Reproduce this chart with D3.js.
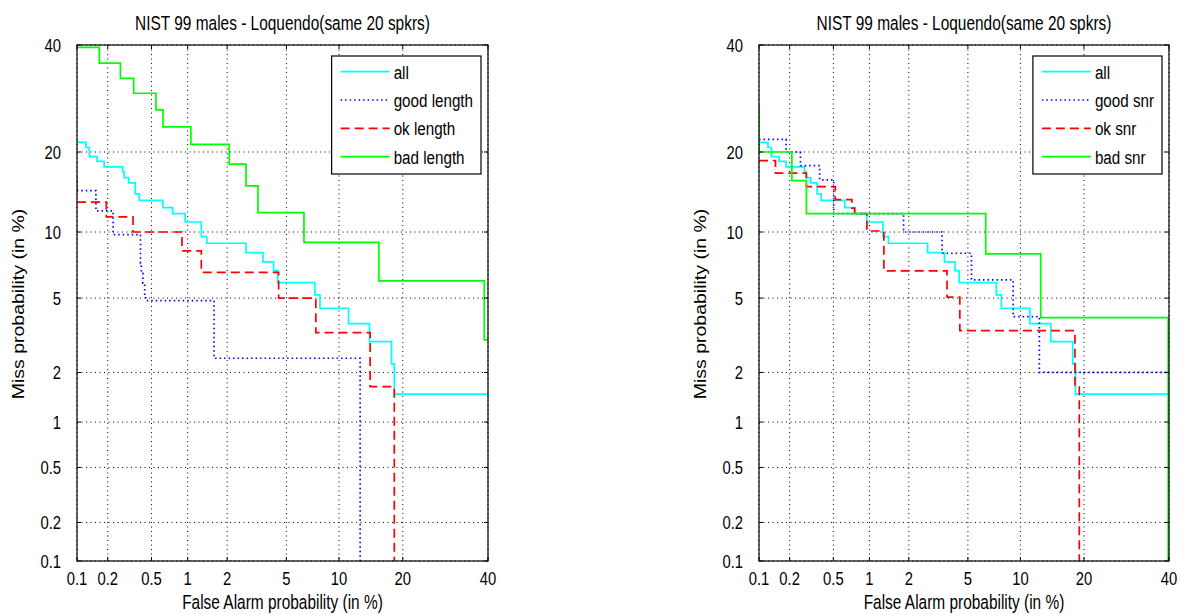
<!DOCTYPE html>
<html>
<head>
<meta charset="utf-8">
<script src="https://cdnjs.cloudflare.com/ajax/libs/d3/7.8.5/d3.min.js"></script>
<style>
body { margin: 0; background: #fff; }
svg text { font-family: "Liberation Sans", Arial, sans-serif; fill: #000; }
</style>
</head>
<body>
<script>
// DET curves: [false alarm %, miss %], each point starts a horizontal step
var allCurve = [[0.1,21.5],[0.123,20.7],[0.133,19.3],[0.158,18.6],[0.185,17.8],[0.276,17.1],[0.285,16.3],[0.314,15.6],[0.359,14.2],[0.39,13.4],[0.627,12.55],[0.755,11.9],[0.955,11.0],[1.28,9.56],[1.41,8.96],[2.72,8.15],[3.54,7.42],[4.15,6.76],[4.41,5.94],[7.38,5.18],[7.88,4.45],[11.2,3.71],[14.2,2.98],[17.9,2.24],[18.4,1.49],[40,1.49]];
var goodLength = [[0.1,16.4],[0.1,14.6],[0.154,12.2],[0.225,9.75],[0.40,7.3],[0.407,6.57],[0.42,5.9],[0.436,5.08],[0.445,4.86],[1.6,2.41],[12.8,0.1]];
var okLength = [[0.1,13.2],[0.194,11.55],[0.343,10.0],[0.90,8.3],[1.28,6.64],[4.47,5.0],[7.47,3.33],[14.3,1.65],[18.4,0.1]];
var badLength = [[0.1,39.5],[0.166,36.2],[0.263,33.1],[0.348,30.2],[0.546,27.1],[0.627,24.1],[1.06,21.2],[2.07,18.2],[2.72,15.2],[3.28,12.0],[6.38,9.04],[15.7,6.05],[39.0,3.04],[40,3.04]];
var goodSnr = [[0.1,22.0],[0.185,20.0],[0.253,17.96],[0.379,16.0],[0.504,11.9],[1.83,10.0],[3.41,8.1],[5.26,6.12],[9.15,4.03],[12.5,2.0],[40,2.0]];
var okSnr = [[0.1,18.7],[0.146,16.9],[0.287,15.1],[0.52,13.5],[0.72,12.5],[0.76,11.9],[0.955,10.1],[1.30,6.74],[3.68,5.05],[4.45,3.41],[18.3,1.69],[19.1,0.1]];
var badSnr = [[0.1,28.0],[0.1,20.0],[0.21,15.9],[0.287,11.9],[6.41,8.05],[12.7,3.99],[39.8,0.1]];

var tickValues = [0.1, 0.2, 0.5, 1, 2, 5, 10, 20, 40];
var tickLabels = ["0.1", "0.2", "0.5", "1", "2", "5", "10", "20", "40"];
var plotTitle = "NIST 99 males - Loquendo(same 20 spkrs)";
var xTitle = "False Alarm probability (in %)";
var yTitle = "Miss probability (in %)";
var legendLeft = ["all", "good length", "ok length", "bad length"];
var legendRight = ["all", "good snr", "ok snr", "bad snr"];

// inverse normal cdf (Acklam)
function probit(p) {
	var a = [-3.969683028665376e+01, 2.209460984245205e+02, -2.759285104469687e+02, 1.383577518672690e+02, -3.066479806614716e+01, 2.506628277459239e+00];
	var b = [-5.447609879822406e+01, 1.615858368580409e+02, -1.556989798598866e+02, 6.680131188771972e+01, -1.328068155288572e+01];
	var c = [-7.784894002430293e-03, -3.223964580411365e-01, -2.400758277161838e+00, -2.549732539343734e+00, 4.374664141464968e+00, 2.938163982698783e+00];
	var d = [7.784695709041462e-03, 3.224671290700398e-01, 2.445134137142996e+00, 3.754408661907416e+00];
	var q, r;
	if (p < 0.02425) {
		q = Math.sqrt(-2 * Math.log(p));
		return (((((c[0]*q+c[1])*q+c[2])*q+c[3])*q+c[4])*q+c[5]) / ((((d[0]*q+d[1])*q+d[2])*q+d[3])*q+1);
	}
	q = p - 0.5; r = q * q;
	return (((((a[0]*r+a[1])*r+a[2])*r+a[3])*r+a[4])*r+a[5])*q / (((((b[0]*r+b[1])*r+b[2])*r+b[3])*r+b[4])*r+1);
}

var styles = [
	{color: "#00ffff", dash: null},
	{color: "#0000ff", dash: "1.5,3"},
	{color: "#ff0000", dash: "9,5"},
	{color: "#00ff00", dash: null}
];

// the source image is squeezed sideways, so text is too
var sx = 0.8;
function place(x, y, rot) {
	return "translate(" + x + "," + y + ") scale(" + sx + ",1)" + (rot ? " rotate(-90)" : "");
}

var svg = d3.select("body").append("svg").
attr("width", 1181).
attr("height", 615);

function drawPanel(id, x0, x1, curves, names) {
	var y0 = 45, y1 = 561;
	var x = d3.scaleLinear().domain([probit(0.001), probit(0.4)]).range([x0, x1]);
	var y = d3.scaleLinear().domain([probit(0.001), probit(0.4)]).range([y1, y0]);
	var px = function (v) {return x(probit(v / 100));};
	var py = function (v) {return y(probit(v / 100));};

	var g = svg.append("g");

	g.append("clipPath").attr("id", "clip" + id).
	append("rect").attr("x", x0).attr("y", y0).attr("width", x1 - x0).attr("height", y1 - y0);

	// grid
	g.selectAll(".vgrid").data(tickValues).enter().append("line").
	attr("x1", px).attr("x2", px).attr("y1", y0).attr("y2", y1).
	attr("stroke", "#000").attr("stroke-width", 1).attr("stroke-dasharray", "1,3.5");
	g.selectAll(".hgrid").data(tickValues).enter().append("line").
	attr("y1", py).attr("y2", py).attr("x1", x0).attr("x2", x1).
	attr("stroke", "#000").attr("stroke-width", 1).attr("stroke-dasharray", "1,3.5");

	// curves
	var line = d3.line().
	x(function (d) {return px(d[0]);}).
	y(function (d) {return py(d[1]);}).
	curve(d3.curveStepAfter);

	g.append("g").attr("clip-path", "url(#clip" + id + ")").
	selectAll("path").data(curves).enter().append("path").
	attr("d", line).
	attr("fill", "none").
	attr("stroke", function (d, i) {return styles[i].color;}).
	attr("stroke-width", 1.7).
	attr("stroke-dasharray", function (d, i) {return styles[i].dash;});

	// box and ticks
	g.append("rect").attr("x", x0).attr("y", y0).attr("width", x1 - x0).attr("height", y1 - y0).
	attr("fill", "none").attr("stroke", "#000").attr("stroke-width", 1.2);
	tickValues.forEach(function (t) {
		g.append("path").attr("d", "M" + px(t) + "," + y1 + "v-4M" + px(t) + "," + y0 + "v4").attr("stroke", "#000");
		g.append("path").attr("d", "M" + x0 + "," + py(t) + "h4M" + x1 + "," + py(t) + "h-4").attr("stroke", "#000");
	});

	g.selectAll(".xlab").data(tickLabels).enter().append("text").
	attr("transform", function (d, i) {return place(px(tickValues[i]), 584.5);}).
	attr("text-anchor", "middle").
	style("font-size", "18.5px").
	text(function (d) {return d;});

	g.selectAll(".ylab").data(tickLabels).enter().append("text").
	attr("transform", function (d, i) {return place(x0 - 16, py(tickValues[i]) + 6.5);}).
	attr("text-anchor", "end").
	style("font-size", "18.5px").
	text(function (d) {return d;});

	g.append("text").
	attr("transform", place((x0 + x1) / 2, 29.5)).
	attr("text-anchor", "middle").
	style("font-size", "19.3px").
	text(plotTitle);

	g.append("text").
	attr("transform", place((x0 + x1) / 2, 609)).
	attr("text-anchor", "middle").
	style("font-size", "19.3px").
	text(xTitle);

	g.append("text").
	attr("transform", place(x0 - 53.5, (y0 + y1) / 2 + 1, true)).
	attr("text-anchor", "middle").
	style("font-size", "19.5px").
	text(yTitle);

	// legend
	var legend = g.append("g");
	var box = legend.append("rect").attr("fill", "#fff").attr("stroke", "#000").attr("stroke-width", 1.2);
	var item = legend.selectAll(".item").data(names).enter().append("g");
	item.append("line").
	attr("x1", 0).attr("x2", 49).
	attr("stroke", function (d, i) {return styles[i].color;}).
	attr("stroke-width", 1.7).
	attr("stroke-dasharray", function (d, i) {return styles[i].dash;});
	var labels = item.append("text").
	attr("transform", place(53, 7)).
	style("font-size", "19px").
	text(function (d) {return d;});
	var tw = d3.max(labels.nodes(), function (n) {return n.getComputedTextLength();}) * sx;
	var bw = 9 + 53 + tw + 8;
	var bx = x1 - 7 - bw;
	box.attr("x", bx).attr("y", 56).attr("width", bw).attr("height", 118);
	item.attr("transform", function (d, i) {return "translate(" + (bx + 9) + "," + (71.7 + i * 28.3) + ")";});
}

drawPanel("L", 77, 488, [allCurve, goodLength, okLength, badLength], legendLeft);
drawPanel("R", 759, 1169, [allCurve, goodSnr, okSnr, badSnr], legendRight);
</script>
</body>
</html>
